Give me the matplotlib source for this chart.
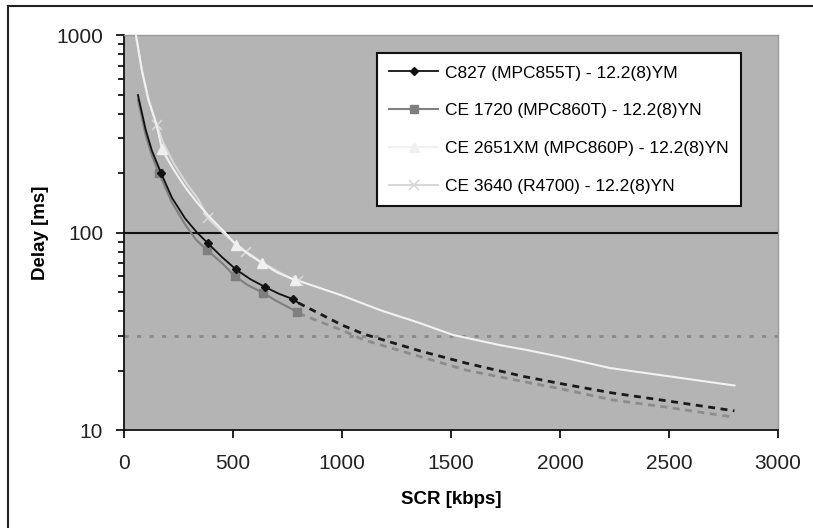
import matplotlib
matplotlib.use("Agg")
import matplotlib.pyplot as plt
from matplotlib.lines import Line2D

# measured delay curves (SCR in kbps, delay in ms)
c827_x = [64, 100, 128, 170, 220, 280, 335, 386, 450, 514, 580, 647, 710, 775, 800]
c827_y = [497, 330, 260, 200, 150, 118, 100, 88, 75, 65, 58, 53, 49, 46, 44]

ce1720_x = [64, 100, 128, 160, 220, 280, 330, 381, 450, 509, 570, 638, 700, 760, 793]
ce1720_y = [470, 310, 245, 200, 142, 110, 92, 81.5, 70, 60, 54, 49.5, 45, 41.5, 39.5]

ce2651_x = [55, 80, 110, 151, 174, 220, 280, 335, 386, 463, 514, 570, 633, 700, 784, 800]
ce2651_y = [1000, 680, 480, 345, 265, 215, 170, 142, 122, 100, 86.5, 78, 70, 63, 57.5, 56]

ce3640_x = [58, 85, 115, 151, 180, 230, 290, 340, 386, 440, 500, 560, 630, 700, 760, 800]
ce3640_y = [950, 640, 460, 350, 285, 222, 175, 148, 118, 103, 90, 80, 71, 64, 59, 56.5]

# extrapolated curves
c827_ext_x = [800, 1000, 1100, 1360, 1570, 1830, 2000, 2240, 2500, 2800]
c827_ext_y = [44, 34, 30.6, 25.1, 21.8, 18.7, 17.2, 15.4, 14, 12.5]

ce1720_ext_x = [800, 1000, 1100, 1360, 1570, 1830, 2000, 2240, 2500, 2800]
ce1720_ext_y = [39, 32, 28.6, 23.5, 20.1, 17.6, 16.2, 14.2, 13, 11.6]

ce2651_ext_x = [800, 1000, 1174, 1350, 1509, 1725, 1849, 2000, 2229, 2500, 2800]
ce2651_ext_y = [57, 48, 40.5, 35, 30.3, 26.9, 25.4, 23.5, 20.6, 18.7, 16.8]

labels = ["C827 (MPC855T) - 12.2(8)YM",
          "CE 1720 (MPC860T) - 12.2(8)YN",
          "CE 2651XM (MPC860P) - 12.2(8)YN",
          "CE 3640 (R4700) - 12.2(8)YN"]

limit_hi = 100
limit_lo = 30

plt.rcParams["font.family"] = ["Liberation Sans", "DejaVu Sans"]

fig = plt.figure(figsize=(8.13, 5.28), dpi=100)
ax = fig.add_axes([0.1525, 0.1856, 0.8045, 0.748])
ax.set_facecolor("#b4b4b4")

ax.axhline(limit_hi, color="#111111", lw=1.5, zorder=1)
ax.axhline(limit_lo, color="#8a8a8a", lw=2, ls=(0, (1.5, 3)), zorder=1)

ax.plot(c827_ext_x, c827_ext_y, color="#1a1a1a", lw=2, ls=(0, (2.5, 2)))
ax.plot(ce1720_ext_x, ce1720_ext_y, color="#8c8c8c", lw=2, ls=(0, (2.5, 2)))
ax.plot(ce2651_ext_x, ce2651_ext_y, color="#f2f2f2", lw=1.5)

ax.plot(ce3640_x, ce3640_y, color="#d8d8d8", lw=1.5, marker="x", ms=7, mew=1.2,
        markevery=[3, 8, 11, 15], label=labels[3], zorder=3)
ax.plot(ce2651_x, ce2651_y, color="#f0f0f0", lw=1.5, marker="^", ms=7,
        markevery=[4, 10, 12, 14], label=labels[2], zorder=3)
ax.plot(ce1720_x, ce1720_y, color="#7f7f7f", lw=1.5, marker="s", ms=6,
        markevery=[3, 7, 9, 11, 14], label=labels[1], zorder=4)
ax.plot(c827_x, c827_y, color="#111111", lw=1.3, marker="D", ms=4,
        markevery=[3, 7, 9, 11, 13], label=labels[0], zorder=5)

ax.set_yscale("log")
ax.set_ylim(10, 1000)
ax.set_xlim(0, 3000)
ax.set_xticks([0, 500, 1000, 1500, 2000, 2500, 3000])
ax.set_yticks([10, 100, 1000])
ax.set_yticklabels(["10", "100", "1000"])

ax.tick_params(axis="both", labelsize=15, direction="out", length=6, width=1.2,
               labelcolor="#222222")
ax.tick_params(axis="x", pad=11)
ax.tick_params(axis="y", pad=9)
ax.tick_params(axis="y", which="minor", length=4, width=1.2, labelleft=False)

for side in ["left", "bottom"]:
    ax.spines[side].set_color("#111111")
    ax.spines[side].set_linewidth(1.3)
for side in ["top", "right"]:
    ax.spines[side].set_color("#999999")
    ax.spines[side].set_linewidth(1)

ax.set_xlabel("SCR [kbps]", fontsize=13.5, fontweight="bold", labelpad=13)
ax.set_ylabel("Delay [ms]", fontsize=13.5, fontweight="bold", labelpad=5)

handles, labs = ax.get_legend_handles_labels()
leg = ax.legend(handles[::-1], labs[::-1], loc="upper left",
                bbox_to_anchor=(0.387, 0.954), fancybox=False, framealpha=1,
                edgecolor="#111111", prop={"size": 12.5},
                labelspacing=1.3, handlelength=2.8, handletextpad=0.4,
                borderpad=0.7, borderaxespad=0)
leg.get_frame().set_linewidth(1.5)

# outer frame of the original figure
fig.add_artist(Line2D([8 / 813, 1], [1 - 6 / 528, 1 - 6 / 528], color="#222222", lw=1.5))
fig.add_artist(Line2D([8 / 813, 8 / 813], [0, 1 - 6 / 528], color="#222222", lw=1.5))

fig.savefig("out.png", dpi=100)
